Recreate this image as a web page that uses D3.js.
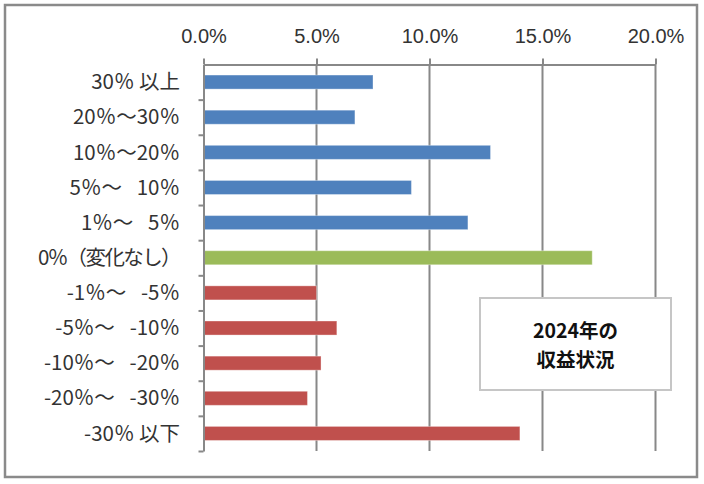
<!DOCTYPE html>
<html><head><meta charset="utf-8">
<script src="https://cdn.jsdelivr.net/npm/d3@7"></script>
<style>
html,body{margin:0;padding:0;background:#fff;}
svg{display:block;}
</style></head>
<body>
<script>
const categories = ["30％ 以上","20％～30％","10％～20％","5％～ 10％","1％～ 5％","0％（変化なし）","-1％～ -5％","-5％～ -10％","-10％～ -20％","-20％～ -30％","-30％ 以下"];
const values = [0.075,0.067,0.127,0.092,0.117,0.172,0.050,0.059,0.052,0.046,0.140];
const groups = ["up","up","up","up","up","flat","down","down","down","down","down"];
const groupColors = {up:"#4F81BD", flat:"#9BBB59", down:"#C0504D"};
const xTicks = [0,0.05,0.10,0.15,0.20];
const boxLines = ["2024年の","収益状況"];

const W = 704, H = 484;
const svg = d3.select("body").append("svg").attr("width", W).attr("height", H);
svg.append("rect").attr("width", W).attr("height", H).attr("fill", "#fff");
svg.append("rect").attr("x",5).attr("y",5).attr("width",692).attr("height",472)
  .attr("fill","#fff").attr("stroke","#8a8a8a").attr("stroke-width",2.5);

const x = d3.scaleLinear().domain([0,0.2]).range([203.5,655.5]);
const y = d3.scaleBand().domain(categories).range([64.5,451]).padding(0);
const gridColor = "#888888";

// gridlines
svg.append("g").selectAll("line").data(xTicks.slice(1)).join("line")
  .attr("x1", d=>x(d)).attr("x2", d=>x(d)).attr("y1", 64.5).attr("y2", 451)
  .attr("stroke", gridColor).attr("stroke-width", 2);

// x axis (top)
const xAxis = svg.append("g").attr("transform","translate(0,64.5)")
  .call(d3.axisTop(x).tickValues(xTicks).tickFormat(d3.format(".1%")).tickSizeInner(6).tickSizeOuter(0).tickPadding(16));
xAxis.select(".domain").attr("stroke", gridColor).attr("stroke-width", 2);
xAxis.selectAll(".tick line").attr("stroke", gridColor).attr("stroke-width", 2);
xAxis.selectAll(".tick text").attr("font-family","'Liberation Sans', Arial, sans-serif")
  .attr("font-size", 20).attr("fill","#333");

// bars
const bh = y.bandwidth()*0.4;
svg.append("g").selectAll("rect").data(categories).join("rect")
  .attr("x", x(0)).attr("y", d=> y(d) + (y.bandwidth()-bh)/2)
  .attr("width", (d,i)=> x(values[i]) - x(0)).attr("height", bh)
  .attr("fill", (d,i)=> groupColors[groups[i]])
  .attr("stroke","rgba(255,255,255,0.35)").attr("stroke-width",1);

// y axis with ticks at category boundaries
const yIdx = d3.scaleLinear().domain([0, categories.length]).range([64.5,451]);
const yAxis = svg.append("g").attr("transform", `translate(${x(0)},0)`)
  .call(d3.axisLeft(yIdx).tickValues(d3.range(1, categories.length+1)).tickFormat("").tickSizeInner(5).tickSizeOuter(0));
yAxis.select(".domain").attr("stroke", gridColor).attr("stroke-width", 2);
yAxis.selectAll(".tick line").attr("stroke", gridColor).attr("stroke-width", 2);

// category labels (wider gap after the wave dash, as in the original layout)
svg.append("g").selectAll("text").data(categories).join("text")
  .attr("x", 180).attr("y", d=> y(d) + y.bandwidth()/2)
  .attr("dy","0.35em").attr("text-anchor","end")
  .attr("font-family","'Noto Sans CJK JP', sans-serif").attr("font-size",20.5)
  .attr("letter-spacing", d => d.includes("（") ? "-1.6px" : "0px")
  .attr("fill","#333").text(d=>d.replace("～ ", "～\u2002\u00A0"));

// text box
svg.append("rect").attr("x",480).attr("y",298).attr("width",191).attr("height",92)
  .attr("fill","#fff").attr("stroke","#c6c6c6").attr("stroke-width",2);
svg.append("g").selectAll("text").data(boxLines).join("text")
  .attr("x",575.5).attr("y",(d,i)=> 338 + i*29)
  .attr("text-anchor","middle").attr("font-family","'Noto Sans CJK JP', sans-serif")
  .attr("font-size",19.5).attr("font-weight","bold").attr("fill","#111").text(d=>d);
</script>
</body></html>
